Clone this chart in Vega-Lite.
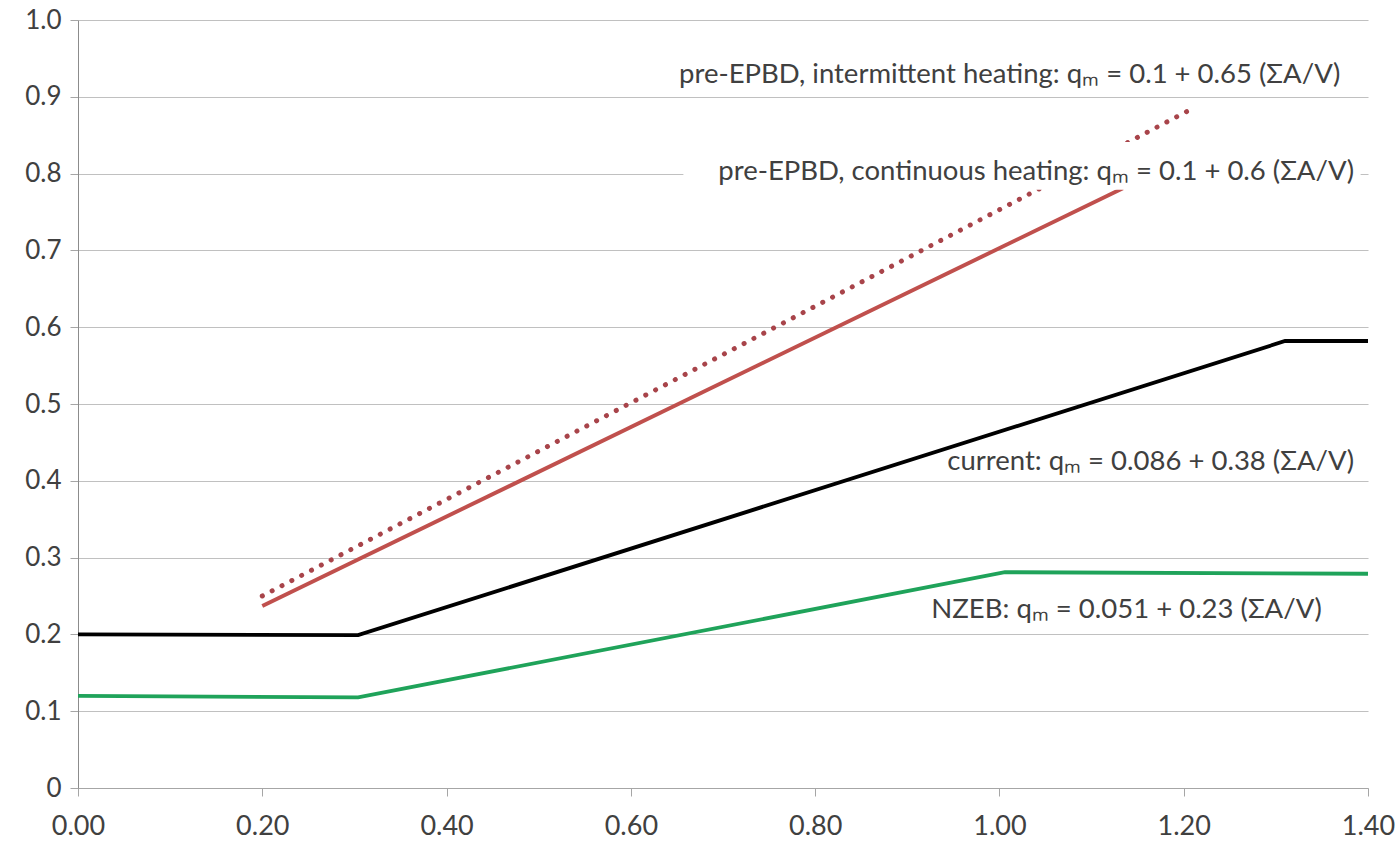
{
  "$schema": "https://vega.github.io/schema/vega-lite/v6.json",
  "width": 1290,
  "height": 768,
  "autosize": "none",
  "padding": {"left": 78, "top": 20, "right": 30, "bottom": 55},
  "background": "white",
  "config": {"view": {"stroke": null}, "font": "Lato"},
  "datasets": {
    "lines": [
      {"series": "pre-EPBD intermittent", "x": 0.2, "y": 0.25},
      {"series": "pre-EPBD intermittent", "x": 1.21, "y": 0.885},
      {"series": "pre-EPBD continuous", "x": 0.2, "y": 0.237},
      {"series": "pre-EPBD continuous", "x": 1.134, "y": 0.781},
      {"series": "current", "x": 0.0, "y": 0.2},
      {"series": "current", "x": 0.304, "y": 0.199},
      {"series": "current", "x": 1.31, "y": 0.582},
      {"series": "current", "x": 1.4, "y": 0.582},
      {"series": "NZEB", "x": 0.0, "y": 0.12},
      {"series": "NZEB", "x": 0.304, "y": 0.118},
      {"series": "NZEB", "x": 1.006, "y": 0.281},
      {"series": "NZEB", "x": 1.4, "y": 0.279}
    ],
    "box": [
      {"x": 0.657, "x2": 1.392, "y": 0.779, "y2": 0.841}
    ],
    "labels": [
      {"label": "pre-EPBD, intermittent heating: qₘ = 0.1 + 0.65 (ΣA/V)", "x": 1.37, "y": 0.928},
      {"label": "pre-EPBD, continuous heating: qₘ = 0.1 + 0.6 (ΣA/V)", "x": 1.385, "y": 0.802},
      {"label": "current: qₘ = 0.086 + 0.38 (ΣA/V)", "x": 1.385, "y": 0.424},
      {"label": "NZEB: qₘ = 0.051 + 0.23 (ΣA/V)", "x": 1.35, "y": 0.232}
    ]
  },
  "layer": [
    {
      "data": {"name": "lines"},
      "transform": [{"filter": "datum.series !== 'pre-EPBD intermittent'"}],
      "mark": {"type": "line", "strokeCap": "butt"},
      "encoding": {
        "x": {
          "field": "x", "type": "quantitative",
          "scale": {"domain": [0, 1.4], "nice": false, "zero": false},
          "axis": {
            "values": [0, 0.2, 0.4, 0.6, 0.8, 1.0, 1.2, 1.4],
            "format": ".2f", "title": null, "grid": false, "labelFlush": false,
            "domainColor": "#a6a6a6", "tickColor": "#a6a6a6", "tickSize": 8,
            "labelFontSize": 27, "labelColor": "#404040", "labelPadding": 17,
            "labelFont": "Lato"
          }
        },
        "y": {
          "field": "y", "type": "quantitative",
          "scale": {"domain": [0, 1.0], "nice": false},
          "axis": {
            "values": [0, 0.1, 0.2, 0.3, 0.4, 0.5, 0.6, 0.7, 0.8, 0.9, 1.0],
            "labelExpr": "datum.value == 0 ? '0' : format(datum.value, '.1f')",
            "title": null, "grid": true, "gridColor": "#c0c0c0", "gridWidth": 1.2,
            "domainColor": "#8c8c8c", "tickColor": "#a6a6a6", "tickSize": 8,
            "labelFontSize": 26, "labelColor": "#404040", "labelPadding": 9,
            "labelFont": "Lato"
          }
        },
        "detail": {"field": "series"},
        "color": {
          "field": "series", "type": "nominal", "legend": null,
          "scale": {
            "domain": ["pre-EPBD intermittent", "pre-EPBD continuous", "current", "NZEB"],
            "range": ["#b0464a", "#c0504d", "#000000", "#1fa35a"]
          }
        },
        "strokeWidth": {
          "field": "series", "type": "nominal", "legend": null,
          "scale": {
            "domain": ["pre-EPBD intermittent", "pre-EPBD continuous", "current", "NZEB"],
            "range": [4, 3.8, 4.2, 5]
          }
        }
      }
    },
    {
      "data": {"name": "lines"},
      "transform": [{"filter": "datum.series === 'pre-EPBD intermittent'"}],
      "mark": {"type": "line", "strokeCap": "round", "strokeDash": [0.1, 11], "strokeWidth": 5, "color": "#a8444a"},
      "encoding": {
        "x": {"field": "x", "type": "quantitative"},
        "y": {"field": "y", "type": "quantitative"}
      }
    },
    {
      "data": {"name": "box"},
      "mark": {"type": "rect", "color": "white", "opacity": 1},
      "encoding": {
        "x": {"field": "x", "type": "quantitative"},
        "x2": {"field": "x2"},
        "y": {"field": "y", "type": "quantitative"},
        "y2": {"field": "y2"}
      }
    },
    {
      "data": {"name": "labels"},
      "mark": {"type": "text", "align": "right", "baseline": "middle", "fontSize": 27.5, "color": "#404040", "font": "Lato"},
      "encoding": {
        "x": {"field": "x", "type": "quantitative"},
        "y": {"field": "y", "type": "quantitative"},
        "text": {"field": "label"}
      }
    }
  ]
}
